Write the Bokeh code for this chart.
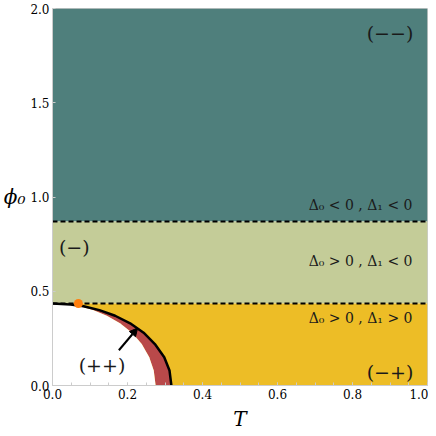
from bokeh.plotting import figure
from bokeh.models import Label, Arrow, NormalHead, FixedTicker, PrintfTickFormatter
from bokeh.embed import file_html
from bokeh.resources import INLINE

# Region boundaries (phi_0 levels)
phi_upper = 0.87   # Delta_0 = 0
phi_lower = 0.435  # Delta_1 = 0

# Outer (black) boundary curve
outer_phi = [0.435, 0.43, 0.42, 0.40, 0.37, 0.33, 0.28, 0.22, 0.15, 0.08, 0.0]
outer_T   = [0.0, 0.048, 0.083, 0.125, 0.167, 0.207, 0.243, 0.273, 0.298, 0.312, 0.317]

# Inner boundary of the red band
inner_phi = [0.435, 0.43, 0.42, 0.40, 0.37, 0.33, 0.28, 0.22, 0.15, 0.08, 0.0]
inner_T   = [0.0, 0.042, 0.072, 0.108, 0.145, 0.180, 0.212, 0.238, 0.258, 0.270, 0.275]

# Critical point
crit_T = [0.069]
crit_phi = [0.435]

x_ticks = [0.0, 0.2, 0.4, 0.6, 0.8, 1.0]
y_ticks = [0.0, 0.5, 1.0, 1.5, 2.0]

C_TEAL = "#4f7f7c"
C_OLIVE = "#c4cc98"
C_YELLOW = "#edbd26"
C_RED = "#b9494a"
C_ORANGE = "#ff7f0e"

p = figure(width=428, height=433, x_range=(0, 1), y_range=(0, 2),
           output_backend="svg", toolbar_location=None,
           min_border_left=48, min_border_right=1, min_border_top=8, min_border_bottom=47)
p.grid.visible = False
p.outline_line_color = "#cccccc"
p.background_fill_color = "white"

# Bands
p.quad(left=0, right=1, bottom=phi_upper, top=2, fill_color=C_TEAL, line_color=None)
p.quad(left=0, right=1, bottom=phi_lower, top=phi_upper, fill_color=C_OLIVE, line_color=None)
p.quad(left=0, right=1, bottom=0, top=phi_lower, fill_color=C_YELLOW, line_color=None)

# Red band between inner and outer curves
red_x = outer_T + inner_T[::-1]
red_y = outer_phi + inner_phi[::-1]
p.patch(red_x, red_y, fill_color=C_RED, line_color=None)

# White (++) region
p.patch(inner_T + [0.0], inner_phi + [0.0], fill_color="white", line_color=None)

# Black boundary
p.line(outer_T, outer_phi, line_color="black", line_width=2.5)

# Dashed lines
p.line([0, 1], [phi_upper, phi_upper], line_color="black", line_width=2, line_dash="5 3")
p.line([0, 1], [phi_lower, phi_lower], line_color="black", line_width=2, line_dash="5 3")

# Critical point
p.scatter(crit_T, crit_phi, size=9, fill_color=C_ORANGE, line_color=None)

# Arrow
p.add_layout(Arrow(end=NormalHead(size=8, fill_color="black", line_color="black"),
                   x_start=0.177, y_start=0.187, x_end=0.227, y_end=0.305,
                   line_color="black", line_width=2))

FONT = "DejaVu Serif"

def lab(x, y, text, size, align="center", baseline="middle", style="normal", color="#1a1a1a"):
    p.add_layout(Label(x=x, y=y, text=text, text_font=FONT, text_font_size=f"{size}px",
                       text_align=align, text_baseline=baseline, text_font_style=style,
                       text_color=color))

lab(0.90, 1.87, "(\u2212\u2212)", 19)
lab(0.058, 0.737, "(\u2212)", 19)
lab(0.132, 0.11, "(++)", 19)
lab(0.90, 0.069, "(\u2212+)", 19)

lab(0.96, 0.96, "\u0394\u2080 < 0 , \u0394\u2081 < 0", 14, align="right")
lab(0.96, 0.658, "\u0394\u2080 > 0 , \u0394\u2081 < 0", 14, align="right")
lab(0.96, 0.36, "\u0394\u2080 > 0 , \u0394\u2081 > 0", 14, align="right")

# Axis labels
p.xaxis.axis_label = "T"
p.yaxis.axis_label = "\u03d5\u2080"
p.yaxis.axis_label_orientation = "horizontal"
for ax in (p.xaxis[0], p.yaxis[0]):
    ax.axis_label_text_font = FONT
    ax.axis_label_text_font_size = "20px"
    ax.axis_label_text_font_style = "italic"
    ax.axis_label_text_color = "black"
p.xaxis.axis_label_standoff = 5
p.yaxis.axis_label_standoff = 2

# Axes
p.xaxis.ticker = FixedTicker(ticks=x_ticks, minor_ticks=[i * 0.05 for i in range(21)])
p.yaxis.ticker = FixedTicker(ticks=y_ticks)
for ax in (p.xaxis[0], p.yaxis[0]):
    ax.formatter = PrintfTickFormatter(format="%.1f")
    ax.axis_line_color = "#cccccc"
    ax.major_tick_line_color = "#cccccc"
    ax.minor_tick_line_color = "#cccccc"
    ax.major_tick_in = 3
    ax.major_tick_out = 0
    ax.minor_tick_in = 3
    ax.minor_tick_out = 0
    ax.major_label_text_font = FONT
    ax.major_label_text_font_size = "12px"
    ax.major_label_text_color = "black"
    ax.major_label_standoff = 3
p.yaxis.minor_tick_line_color = None

open("out.html", "w").write(file_html(p, INLINE))
